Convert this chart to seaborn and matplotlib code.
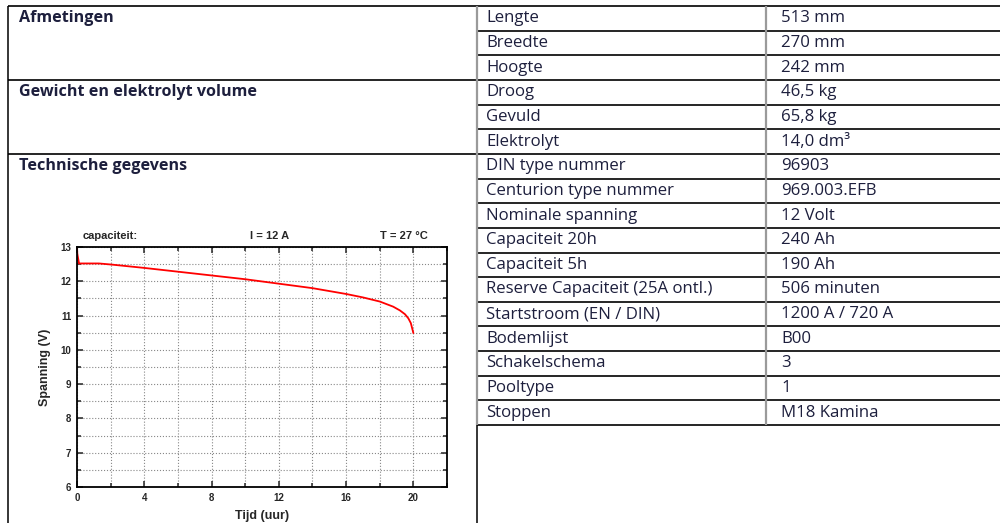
import matplotlib
matplotlib.use("Agg")
import matplotlib.pyplot as plt
import seaborn as sns
import pandas as pd

# ontladingscurve (capaciteit, I = 12 A, T = 27 °C)
tijd = [0.0, 0.02, 0.12, 0.6, 1.3, 2, 4, 6, 8, 10, 12, 14, 16, 17, 18, 18.8,
        19.2, 19.5, 19.7, 19.85, 20.0]
spanning = [13.0, 12.8, 12.52, 12.52, 12.52, 12.49, 12.39, 12.28, 12.17, 12.06,
            11.93, 11.80, 11.63, 11.53, 11.41, 11.26, 11.15, 11.04, 10.92, 10.78, 10.49]

# tabel
secties = ["Afmetingen", "Gewicht en elektrolyt volume", "Technische gegevens"]
sectie_rijen = [3, 3, 11]
kenmerken = ["Lengte", "Breedte", "Hoogte", "Droog", "Gevuld", "Elektrolyt",
             "DIN type nummer", "Centurion type nummer", "Nominale spanning",
             "Capaciteit 20h", "Capaciteit 5h", "Reserve Capaciteit (25A ontl.)",
             "Startstroom (EN / DIN)", "Bodemlijst", "Schakelschema", "Pooltype", "Stoppen"]
waarden = ["513 mm", "270 mm", "242 mm", "46,5 kg", "65,8 kg", "14,0 dm³",
           "96903", "969.003.EFB", "12 Volt", "240 Ah", "190 Ah", "506 minuten",
           "1200 A / 720 A", "B00", "3", "1", "M18 Kamina"]

sns.set_style("ticks")
plt.rcParams['font.family'] = ['Open Sans', 'DejaVu Sans']

fig = plt.figure(figsize=(10, 5.23), dpi=100)

# achtergrond met de tabel, in pixels
bg = fig.add_axes([0, 0, 1, 1])
bg.set_xlim(0, 1000)
bg.set_ylim(523, 0)
bg.axis("off")

tekstkleur = "#1d1f3d"
top = 6
rh = 24.65
x_links, x_mid, x_waarde = 8, 477, 766
fs = 12.1

bg.hlines(top, x_links, 1000, color="black", lw=1.2)
for i in range(1, len(kenmerken) + 1):
    bg.hlines(top + i * rh, x_mid, 1000, color="black", lw=1.2)
for i, kenmerk in enumerate(kenmerken):
    yc = top + (i + 0.5) * rh
    bg.text(486, yc, kenmerk, color=tekstkleur, fontsize=fs, va="center")
    bg.text(781, yc, waarden[i], color=tekstkleur, fontsize=fs, va="center")

start = 0
for naam, n in zip(secties, sectie_rijen):
    bg.text(19, top + (start + 0.5) * rh, naam, color=tekstkleur, fontsize=11.6,
            fontweight="bold", va="center")
    start += n
    if start < len(kenmerken):
        bg.hlines(top + start * rh, x_links, x_mid, color="black", lw=1.2)

einde = top + len(kenmerken) * rh
bg.vlines(x_links, top, 523, color="black", lw=1.1)
bg.vlines(x_mid, top, einde, color="#9a9a9a", lw=1.6)
bg.vlines(x_mid, einde, 523, color="black", lw=1.1)
bg.vlines(x_waarde, top, einde, color="#9a9a9a", lw=1.6)

# grafiek
ax = fig.add_axes([77 / 1000, 36 / 523, 370 / 1000, 240 / 523])
ax.set_facecolor("white")
df = pd.DataFrame({"Tijd (uur)": tijd, "Spanning (V)": spanning})
sns.lineplot(data=df, x="Tijd (uur)", y="Spanning (V)", color="red", lw=1.3,
             sort=False, ax=ax)

lab_font = dict(family=["Liberation Sans", "DejaVu Sans"], weight="bold")
ax.set_xlim(0, 22)
ax.set_ylim(6, 13)
ax.set_xticks(range(0, 21, 4))
ax.set_xticks(range(2, 23, 4), minor=True)
ax.set_yticks(range(6, 14))
ax.set_yticks([6.5 + i for i in range(7)], minor=True)
ax.grid(which="both", ls=":", color="#888888", lw=0.8)
ax.tick_params(which="both", direction="in", top=True, right=True, width=1.1, pad=4)
ax.tick_params(which="major", length=4)
ax.tick_params(which="minor", length=3)
for lab in ax.get_xticklabels() + ax.get_yticklabels():
    lab.set_fontproperties(lab_font)
    lab.set_fontsize(7)
for sp in ax.spines.values():
    sp.set_color("black")
    sp.set_linewidth(1.3)

ax.set_xlabel("Tijd (uur)", fontsize=9, **lab_font)
ax.set_ylabel("Spanning (V)", fontsize=9, **lab_font)
ax.xaxis.set_label_coords(0.5, -0.095)
ax.yaxis.set_label_coords(-0.07, 0.5)

ax.text(0.016, 1.046, "capaciteit:", transform=ax.transAxes, fontsize=8,
        va="center", ha="left", **lab_font)
ax.text(0.52, 1.046, "I = 12 A", transform=ax.transAxes, fontsize=8,
        va="center", ha="center", **lab_font)
ax.text(0.949, 1.046, "T = 27 °C", transform=ax.transAxes, fontsize=8,
        va="center", ha="right", **lab_font)

fig.savefig("out.png", dpi=100)
